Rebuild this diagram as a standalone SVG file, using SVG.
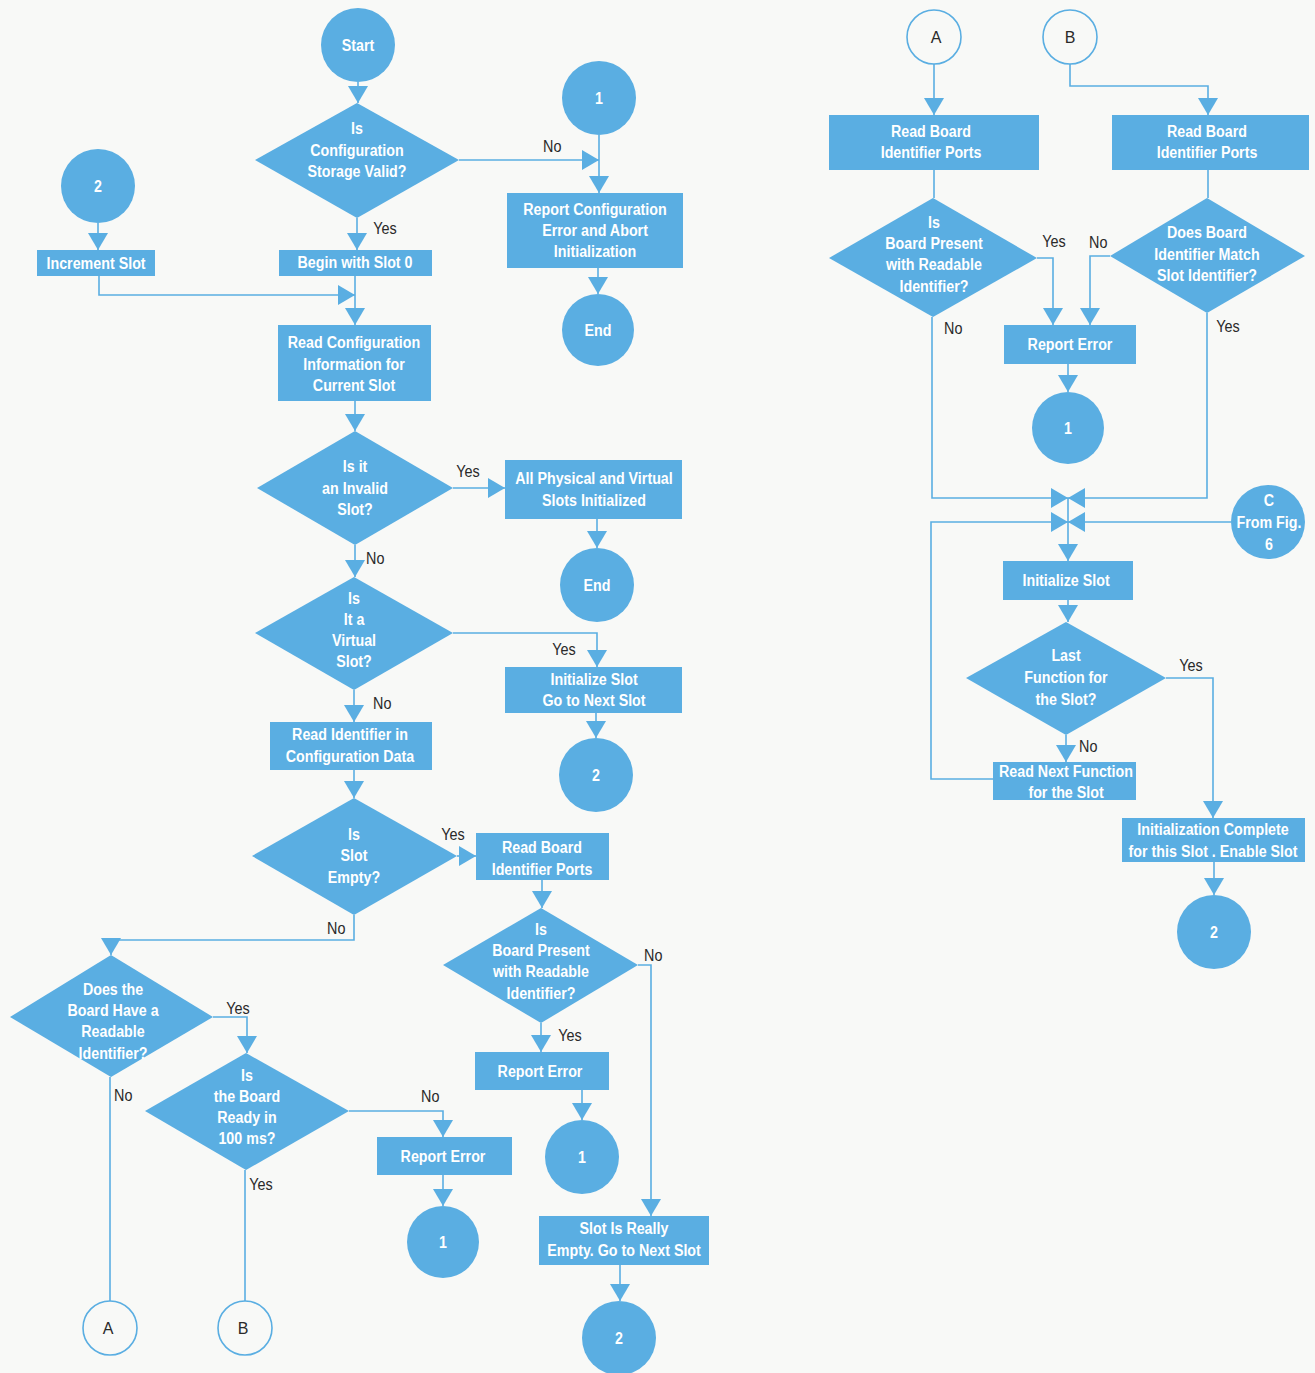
<svg xmlns="http://www.w3.org/2000/svg" width="1315" height="1373" viewBox="0 0 1315 1373">
<defs>
<style>
.s{fill:#5aaee2}
.o{fill:none;stroke:#5aaee2;stroke-width:1.6}
.c{fill:none;stroke:#5aaee2;stroke-width:1.6}
.t{font-family:"Liberation Sans",Arial,sans-serif;font-weight:bold;font-size:17px;fill:#ffffff;text-anchor:middle;transform-box:fill-box;transform-origin:center;transform:scaleX(0.84)}
.l{font-family:"Liberation Sans",Arial,sans-serif;font-size:16px;fill:#2a2a2a;transform-box:fill-box;transform-origin:center;transform:scaleX(0.9)}
.k{font-family:"Liberation Sans",Arial,sans-serif;font-size:16px;fill:#2a2a2a;text-anchor:middle}
</style>
<marker id="ah" viewBox="0 0 17 20" refX="17" refY="10" markerWidth="17" markerHeight="20" markerUnits="userSpaceOnUse" orient="auto"><path d="M0,0 L17,10 L0,20 z" fill="#5aaee2"/></marker>
</defs>
<rect width="1315" height="1373" fill="#f8f9f7"/>

<g id="connectors">
<polyline class="c" points="358,82 358,103" marker-end="url(#ah)"/>
<polyline class="c" points="459,160 599,160" marker-end="url(#ah)"/>
<polyline class="c" points="599,135 599,193" marker-end="url(#ah)"/>
<polyline class="c" points="598,268 598,294" marker-end="url(#ah)"/>
<polyline class="c" points="357,218 357,250" marker-end="url(#ah)"/>
<polyline class="c" points="98,223 98,250" marker-end="url(#ah)"/>
<polyline class="c" points="99,276 99,295 355,295" marker-end="url(#ah)"/>
<polyline class="c" points="355,276 355,325" marker-end="url(#ah)"/>
<polyline class="c" points="355,401 355,431" marker-end="url(#ah)"/>
<polyline class="c" points="453,488 505,488" marker-end="url(#ah)"/>
<polyline class="c" points="597,519 597,548" marker-end="url(#ah)"/>
<polyline class="c" points="355,545 355,577" marker-end="url(#ah)"/>
<polyline class="c" points="453,633 597,633 597,667" marker-end="url(#ah)"/>
<polyline class="c" points="596,713 596,738" marker-end="url(#ah)"/>
<polyline class="c" points="354,690 354,722" marker-end="url(#ah)"/>
<polyline class="c" points="354,770 354,798" marker-end="url(#ah)"/>
<polyline class="c" points="457,856 476,856" marker-end="url(#ah)"/>
<polyline class="c" points="542,880 542,908" marker-end="url(#ah)"/>
<polyline class="c" points="638,965 651,965 651,1216" marker-end="url(#ah)"/>
<polyline class="c" points="541,1023 541,1052" marker-end="url(#ah)"/>
<polyline class="c" points="582,1090 582,1120" marker-end="url(#ah)"/>
<polyline class="c" points="620,1265 620,1301" marker-end="url(#ah)"/>
<polyline class="c" points="354,915 354,940 111,940 111,955" marker-end="url(#ah)"/>
<polyline class="c" points="213,1017 247,1017 247,1053" marker-end="url(#ah)"/>
<polyline class="c" points="110,1077 110,1301"/>
<polyline class="c" points="349,1111 443,1111 443,1137" marker-end="url(#ah)"/>
<polyline class="c" points="443,1175 443,1206" marker-end="url(#ah)"/>
<polyline class="c" points="245,1170 245,1301"/>
<polyline class="c" points="934,64 934,115" marker-end="url(#ah)"/>
<polyline class="c" points="1070,64 1070,86 1208,86 1208,115" marker-end="url(#ah)"/>
<polyline class="c" points="934,170 934,198"/>
<polyline class="c" points="1208,170 1208,198"/>
<polyline class="c" points="1037,258 1053,258 1053,325" marker-end="url(#ah)"/>
<polyline class="c" points="1110,256 1090,256 1090,325" marker-end="url(#ah)"/>
<polyline class="c" points="1068,364 1068,392" marker-end="url(#ah)"/>
<polyline class="c" points="932,317 932,498 1068,498" marker-end="url(#ah)"/>
<polyline class="c" points="1207,313 1207,498 1068,498" marker-end="url(#ah)"/>
<polyline class="c" points="993,779 931,779 931,522 1068,522" marker-end="url(#ah)"/>
<polyline class="c" points="1231,522 1068,522" marker-end="url(#ah)"/>
<polyline class="c" points="1068,498 1068,561" marker-end="url(#ah)"/>
<polyline class="c" points="1068,600 1068,622" marker-end="url(#ah)"/>
<polyline class="c" points="1066,735 1066,762" marker-end="url(#ah)"/>
<polyline class="c" points="1166,678 1213,678 1213,818" marker-end="url(#ah)"/>
<polyline class="c" points="1214,862 1214,895" marker-end="url(#ah)"/>
<text class="l" x="542" y="152">No</text>
<text class="l" x="372" y="234">Yes</text>
<text class="l" x="455" y="477">Yes</text>
<text class="l" x="365" y="564">No</text>
<text class="l" x="551" y="655">Yes</text>
<text class="l" x="372" y="709">No</text>
<text class="l" x="440" y="840">Yes</text>
<text class="l" x="643" y="961">No</text>
<text class="l" x="557" y="1041">Yes</text>
<text class="l" x="326" y="934">No</text>
<text class="l" x="225" y="1014">Yes</text>
<text class="l" x="113" y="1101">No</text>
<text class="l" x="420" y="1102">No</text>
<text class="l" x="248" y="1190">Yes</text>
<text class="l" x="1041" y="247">Yes</text>
<text class="l" x="1088" y="248">No</text>
<text class="l" x="943" y="334">No</text>
<text class="l" x="1215" y="332">Yes</text>
<text class="l" x="1078" y="752">No</text>
<text class="l" x="1178" y="671">Yes</text>
</g>

<g id="start"><circle class="s" cx="358" cy="45" r="37"/><text class="t" x="358" y="51">Start</text></g>
<g id="d_config_valid"><polygon class="s" points="255,160 357,103 459,160 357,218"/><text class="t" x="357" y="134">Is</text><text class="t" x="357" y="156">Configuration</text><text class="t" x="357" y="177">Storage Valid?</text></g>
<g id="c1_top"><circle class="s" cx="599" cy="98" r="37"/><text class="t" x="599" y="104">1</text></g>
<g id="report_config"><rect class="s" x="507" y="193" width="176" height="75"/><text class="t" x="595" y="215">Report Configuration</text><text class="t" x="595" y="236">Error and Abort</text><text class="t" x="595" y="257">Initialization</text></g>
<g id="end1"><circle class="s" cx="598" cy="330" r="36"/><text class="t" x="598" y="336">End</text></g>
<g id="c2_left"><circle class="s" cx="98" cy="186" r="37"/><text class="t" x="98" y="192">2</text></g>
<g id="increment"><rect class="s" x="37" y="250" width="118" height="26"/><text class="t" x="96" y="269">Increment Slot</text></g>
<g id="begin"><rect class="s" x="279" y="250" width="153" height="26"/><text class="t" x="355" y="268">Begin with Slot 0</text></g>
<g id="read_config"><rect class="s" x="278" y="325" width="153" height="76"/><text class="t" x="354" y="348">Read Configuration</text><text class="t" x="354" y="370">Information for</text><text class="t" x="354" y="391">Current Slot</text></g>
<g id="d_invalid"><polygon class="s" points="257,488 355,431 453,488 355,545"/><text class="t" x="355" y="472">Is it</text><text class="t" x="355" y="494">an Invalid</text><text class="t" x="355" y="515">Slot?</text></g>
<g id="all_init"><rect class="s" x="505" y="460" width="177" height="59"/><text class="t" x="594" y="484">All Physical and Virtual</text><text class="t" x="594" y="506">Slots Initialized</text></g>
<g id="end2"><circle class="s" cx="597" cy="585" r="37"/><text class="t" x="597" y="591">End</text></g>
<g id="d_virtual"><polygon class="s" points="255,633 354,577 453,633 354,690"/><text class="t" x="354" y="604">Is</text><text class="t" x="354" y="625">It a</text><text class="t" x="354" y="646">Virtual</text><text class="t" x="354" y="667">Slot?</text></g>
<g id="init_go"><rect class="s" x="505" y="667" width="177" height="46"/><text class="t" x="594" y="685">Initialize Slot</text><text class="t" x="594" y="706">Go to Next Slot</text></g>
<g id="c2_mid"><circle class="s" cx="596" cy="775" r="37"/><text class="t" x="596" y="781">2</text></g>
<g id="read_id"><rect class="s" x="270" y="722" width="162" height="48"/><text class="t" x="350" y="740">Read Identifier in</text><text class="t" x="350" y="762">Configuration Data</text></g>
<g id="d_empty"><polygon class="s" points="252,856 354,798 457,856 354,915"/><text class="t" x="354" y="840">Is</text><text class="t" x="354" y="861">Slot</text><text class="t" x="354" y="883">Empty?</text></g>
<g id="read_ports1"><rect class="s" x="476" y="833" width="133" height="47"/><text class="t" x="542" y="853">Read Board</text><text class="t" x="542" y="875">Identifier Ports</text></g>
<g id="d_present1"><polygon class="s" points="443,965 541,908 638,965 541,1023"/><text class="t" x="541" y="935">Is</text><text class="t" x="541" y="956">Board Present</text><text class="t" x="541" y="977">with Readable</text><text class="t" x="541" y="999">Identifier?</text></g>
<g id="report_err1"><rect class="s" x="475" y="1052" width="134" height="38"/><text class="t" x="540" y="1077">Report Error</text></g>
<g id="c1_mid"><circle class="s" cx="582" cy="1157" r="37"/><text class="t" x="582" y="1163">1</text></g>
<g id="really_empty"><rect class="s" x="539" y="1216" width="170" height="49"/><text class="t" x="624" y="1234">Slot Is Really</text><text class="t" x="624" y="1256">Empty. Go to Next Slot</text></g>
<g id="c2_bottom"><circle class="s" cx="619" cy="1338" r="37"/><text class="t" x="619" y="1344">2</text></g>
<g id="d_readable"><polygon class="s" points="10,1017 111,955 213,1017 111,1077"/><text class="t" x="113" y="995">Does the</text><text class="t" x="113" y="1016">Board Have a</text><text class="t" x="113" y="1037">Readable</text><text class="t" x="113" y="1059">Identifier?</text></g>
<g id="d_ready"><polygon class="s" points="145,1111 246,1053 349,1111 246,1170"/><text class="t" x="247" y="1081">Is</text><text class="t" x="247" y="1102">the Board</text><text class="t" x="247" y="1123">Ready in</text><text class="t" x="247" y="1144">100 ms?</text></g>
<g id="report_err2"><rect class="s" x="377" y="1137" width="135" height="38"/><text class="t" x="443" y="1162">Report Error</text></g>
<g id="c1_bottom"><circle class="s" cx="443" cy="1242" r="36"/><text class="t" x="443" y="1248">1</text></g>
<g id="conn_a_out"><circle class="o" cx="110" cy="1328" r="27"/><text class="k" x="108" y="1334">A</text></g>
<g id="conn_b_out"><circle class="o" cx="245" cy="1328" r="27"/><text class="k" x="243" y="1334">B</text></g>

<g id="conn_a_in"><circle class="o" cx="934" cy="37" r="27"/><text class="k" x="936" y="43">A</text></g>
<g id="conn_b_in"><circle class="o" cx="1070" cy="37" r="27"/><text class="k" x="1070" y="43">B</text></g>
<g id="read_ports2"><rect class="s" x="829" y="115" width="210" height="55"/><text class="t" x="931" y="137">Read Board</text><text class="t" x="931" y="158">Identifier Ports</text></g>
<g id="read_ports3"><rect class="s" x="1112" y="115" width="197" height="55"/><text class="t" x="1207" y="137">Read Board</text><text class="t" x="1207" y="158">Identifier Ports</text></g>
<g id="d_present2"><polygon class="s" points="829,258 933,198 1037,258 933,317"/><text class="t" x="934" y="228">Is</text><text class="t" x="934" y="249">Board Present</text><text class="t" x="934" y="270">with Readable</text><text class="t" x="934" y="292">Identifier?</text></g>
<g id="d_match"><polygon class="s" points="1110,256 1207,198 1305,256 1207,313"/><text class="t" x="1207" y="238">Does Board</text><text class="t" x="1207" y="260">Identifier Match</text><text class="t" x="1207" y="281">Slot Identifier?</text></g>
<g id="report_err3"><rect class="s" x="1004" y="325" width="132" height="39"/><text class="t" x="1070" y="350">Report Error</text></g>
<g id="c1_right"><circle class="s" cx="1068" cy="428" r="36"/><text class="t" x="1068" y="434">1</text></g>
<g id="conn_c"><circle class="s" cx="1268" cy="522" r="37"/><text class="t" x="1269" y="506">C</text><text class="t" x="1269" y="528">From Fig.</text><text class="t" x="1269" y="550">6</text></g>
<g id="init_slot"><rect class="s" x="1003" y="561" width="130" height="39"/><text class="t" x="1066" y="586">Initialize Slot</text></g>
<g id="d_last"><polygon class="s" points="966,678 1066,622 1166,678 1066,735"/><text class="t" x="1066" y="661">Last</text><text class="t" x="1066" y="683">Function for</text><text class="t" x="1066" y="705">the Slot?</text></g>
<g id="read_next"><rect class="s" x="993" y="762" width="143" height="38"/><text class="t" x="1066" y="777">Read Next Function</text><text class="t" x="1066" y="798">for the Slot</text></g>
<g id="init_done"><rect class="s" x="1122" y="818" width="183" height="44"/><text class="t" x="1213" y="835">Initialization Complete</text><text class="t" x="1213" y="857">for this Slot . Enable Slot</text></g>
<g id="c2_right"><circle class="s" cx="1214" cy="932" r="37"/><text class="t" x="1214" y="938">2</text></g>
</svg>
